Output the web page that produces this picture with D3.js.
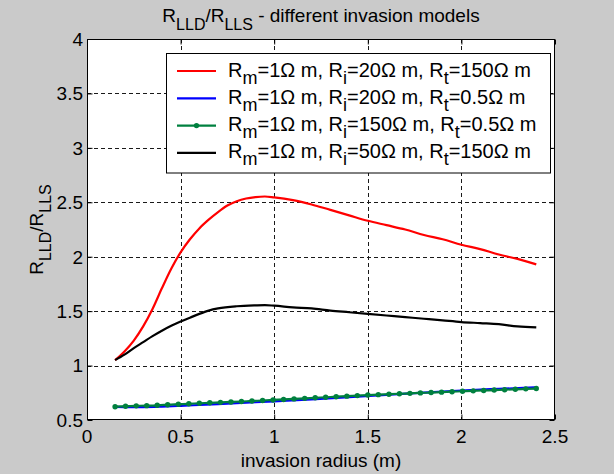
<!DOCTYPE html>
<html><head><meta charset="utf-8">
<script src="https://cdn.jsdelivr.net/npm/d3@7"></script>
<style>html,body{margin:0;padding:0;background:#cacaca;} svg{display:block}</style>
</head><body><svg id="c" width="614" height="474"></svg>
<script>
// ---------- data ----------
const xTicks = [0, 0.5, 1, 1.5, 2, 2.5];
const yTicks = [0.5, 1, 1.5, 2, 2.5, 3, 3.5, 4];
const xTickLabels = ["0", "0.5", "1", "1.5", "2", "2.5"];
const yTickLabels = ["0.5", "1", "1.5", "2", "2.5", "3", "3.5", "4"];

const redX = [0.15,0.2,0.25,0.3,0.35,0.4,0.45,0.5,0.55,0.6,0.65,0.7,0.75,0.8,0.85,0.9,0.95,1.0,1.1,1.2,1.3,1.4,1.5,1.6,1.7,1.8,1.9,2.0,2.1,2.2,2.3,2.4];
const redY = [1.05,1.13,1.23,1.36,1.52,1.71,1.89,2.04,2.16,2.26,2.34,2.41,2.47,2.51,2.535,2.548,2.553,2.545,2.52,2.48,2.43,2.38,2.33,2.29,2.25,2.2,2.16,2.11,2.07,2.02,1.98,1.93];

const blueX = [0.15,0.2,0.3,0.4,0.5,0.6,0.7,0.8,0.9,1.0,1.2,1.4,1.6,1.8,2.0,2.2,2.4];
const blueY = [0.62,0.619,0.619,0.623,0.63,0.638,0.646,0.655,0.663,0.672,0.69,0.709,0.73,0.752,0.771,0.786,0.8];

const greenX = [0.15,0.206,0.263,0.319,0.375,0.431,0.488,0.544,0.6,0.656,0.713,0.769,0.825,0.881,0.938,0.994,1.05,1.106,1.163,1.219,1.275,1.331,1.388,1.444,1.5,1.556,1.613,1.669,1.725,1.781,1.838,1.894,1.95,2.006,2.063,2.119,2.175,2.231,2.288,2.344,2.4];
const greenY = [0.622,0.627,0.63,0.632,0.635,0.64,0.645,0.649,0.654,0.658,0.662,0.666,0.67,0.675,0.679,0.684,0.689,0.694,0.699,0.704,0.709,0.714,0.719,0.724,0.729,0.733,0.737,0.741,0.745,0.749,0.752,0.756,0.76,0.764,0.768,0.771,0.775,0.778,0.782,0.786,0.789];

const blackX = [0.15,0.2,0.25,0.3,0.35,0.4,0.45,0.5,0.55,0.6,0.65,0.7,0.8,0.9,0.95,1.0,1.1,1.2,1.3,1.4,1.5,1.6,1.7,1.8,1.9,2.0,2.1,2.2,2.3,2.4];
const blackY = [1.05,1.1,1.16,1.215,1.27,1.32,1.365,1.405,1.44,1.475,1.505,1.525,1.545,1.553,1.555,1.55,1.535,1.525,1.505,1.49,1.475,1.46,1.445,1.43,1.415,1.4,1.39,1.38,1.36,1.35];

const seriesNames = ["red", "blue", "green", "black"];
const seriesColors = ["#ff0000", "#0000ff", "#00803f", "#000000"];
const legendLabels = [
  "R_{m}=1Ω m, R_{i}=20Ω m, R_{t}=150Ω m",
  "R_{m}=1Ω m, R_{i}=20Ω m, R_{t}=0.5Ω m",
  "R_{m}=1Ω m, R_{i}=150Ω m, R_{t}=0.5Ω m",
  "R_{m}=1Ω m, R_{i}=50Ω m, R_{t}=150Ω m"
];
const titleText = "R_{LLD}/R_{LLS} - different invasion models";
const xLabelText = "invasion radius (m)";
const yLabelText = "R_{LLD}/R_{LLS}";

// ---------- drawing ----------
const FONT = "'Liberation Sans', Arial, Helvetica, sans-serif";
const svg = d3.select("#c");
svg.append("rect").attr("width", 614).attr("height", 474).attr("fill", "#cacaca");

const x = d3.scaleLinear().domain([0, 2.5]).range([87, 555]);
const y = d3.scaleLinear().domain([0.5, 4]).range([420, 39]);

function rich(textSel, str, size, subSize, shift) {
  const parts = str.split(/(_\{[^}]*\})/).filter(s => s.length);
  let down = false;
  parts.forEach(p => {
    const t = textSel.append("tspan");
    if (p.startsWith("_{")) {
      t.text(p.slice(2, -1)).attr("font-size", subSize).attr("dy", shift);
      down = true;
    } else {
      t.text(p).attr("font-size", size);
      if (down) { t.attr("dy", -shift); down = false; }
    }
  });
}

// plot area
svg.append("rect").attr("x", x(0)).attr("y", y(4)).attr("width", x(2.5) - x(0)).attr("height", y(0.5) - y(4))
  .attr("fill", "#ffffff");

// grid
const g = svg.append("g");
g.selectAll(".gx").data(xTicks.slice(1, -1)).enter().append("line")
  .attr("x1", d => Math.round(x(d)) + 0.5).attr("x2", d => Math.round(x(d)) + 0.5)
  .attr("y1", y(4)).attr("y2", y(0.5))
  .attr("stroke", "#1a1a1a").attr("stroke-width", 1).attr("stroke-dasharray", "4,3");
g.selectAll(".gy").data(yTicks.slice(1, -1)).enter().append("line")
  .attr("y1", d => Math.round(y(d)) + 0.5).attr("y2", d => Math.round(y(d)) + 0.5)
  .attr("x1", x(0)).attr("x2", x(2.5))
  .attr("stroke", "#1a1a1a").attr("stroke-width", 1).attr("stroke-dasharray", "4,3");

// series
const seriesData = [
  d3.zip(redX, redY), d3.zip(blueX, blueY), d3.zip(greenX, greenY), d3.zip(blackX, blackY)
];
const line = d3.line().x(d => x(d[0])).y(d => y(d[1])).curve(d3.curveMonotoneX);
seriesData.forEach((data, i) => {
  svg.append("path").datum(data).attr("d", line).attr("fill", "none")
    .attr("stroke", seriesColors[i]).attr("stroke-width", 2.2).attr("stroke-linejoin", "round");
  if (seriesNames[i] === "green") {
    svg.append("g").selectAll("circle").data(data).enter().append("circle")
      .attr("cx", d => x(d[0])).attr("cy", d => y(d[1])).attr("r", 2.7)
      .attr("fill", seriesColors[i]);
  }
});

// axes box
svg.append("rect").attr("x", x(0) + 0.5).attr("y", y(4) + 0.5)
  .attr("width", x(2.5) - x(0) - 1).attr("height", y(0.5) - y(4) - 1)
  .attr("fill", "none").attr("stroke", "#000").attr("stroke-width", 1);

// axes with inner ticks
const xAxisB = d3.axisBottom(x).tickValues(xTicks).tickSize(-5).tickFormat(() => "");
const xAxisT = d3.axisTop(x).tickValues(xTicks).tickSize(-5).tickFormat(() => "");
const yAxisL = d3.axisLeft(y).tickValues(yTicks).tickSize(-5).tickFormat(() => "");
const yAxisR = d3.axisRight(y).tickValues(yTicks).tickSize(-5).tickFormat(() => "");
[[xAxisB, `translate(0,${y(0.5)-0.5})`], [xAxisT, `translate(0,${y(4)+0.5})`],
 [yAxisL, `translate(${x(0)+0.5},0)`], [yAxisR, `translate(${x(2.5)-0.5},0)`]].forEach(([ax, tr]) => {
  const a = svg.append("g").attr("transform", tr).call(ax);
  a.select(".domain").remove();
  a.selectAll("line").attr("stroke", "#000");
});

// tick labels
svg.append("g").selectAll("text").data(xTicks).enter().append("text")
  .attr("x", d => x(d)).attr("y", 442.5).attr("text-anchor", "middle")
  .attr("font-family", FONT).attr("font-size", 19).attr("fill", "#000")
  .text((d, i) => xTickLabels[i]);
svg.append("g").selectAll("text").data(yTicks).enter().append("text")
  .attr("x", 83).attr("y", d => y(d) + 6.8).attr("text-anchor", "end")
  .attr("font-family", FONT).attr("font-size", 19).attr("fill", "#000")
  .text((d, i) => yTickLabels[i]);

// title
const title = svg.append("text").attr("x", (x(0) + x(2.5)) / 2).attr("y", 22)
  .attr("text-anchor", "middle").attr("font-family", FONT).attr("fill", "#000");
rich(title, titleText, 19, 16, 8);

// x label
svg.append("text").attr("x", (x(0) + x(2.5)) / 2).attr("y", 467)
  .attr("text-anchor", "middle").attr("font-family", FONT).attr("font-size", 19).attr("fill", "#000")
  .text(xLabelText);

// y label
const yl = svg.append("text").attr("transform", `translate(43,${(y(0.5) + y(4)) / 2}) rotate(-90)`)
  .attr("text-anchor", "middle").attr("font-family", FONT).attr("fill", "#000");
rich(yl, yLabelText, 19, 16, 8);

// legend
const lg = svg.append("g");
lg.append("rect").attr("x", 166.5).attr("y", 53.5).attr("width", 384).attr("height", 119.5)
  .attr("fill", "#fff").attr("stroke", "#000").attr("stroke-width", 1);
legendLabels.forEach((lab, i) => {
  const cy = 71 + i * 27.3;
  lg.append("line").attr("x1", 177).attr("x2", 216).attr("y1", cy).attr("y2", cy)
    .attr("stroke", seriesColors[i]).attr("stroke-width", 2.2);
  if (seriesNames[i] === "green") {
    lg.append("circle").attr("cx", 196.5).attr("cy", cy).attr("r", 2.7).attr("fill", seriesColors[i]);
  }
  const t = lg.append("text").attr("x", 228).attr("y", cy + 5.5)
    .attr("font-family", FONT).attr("fill", "#000");
  rich(t, lab, 20, 18, 7);
});
</script></body></html>
